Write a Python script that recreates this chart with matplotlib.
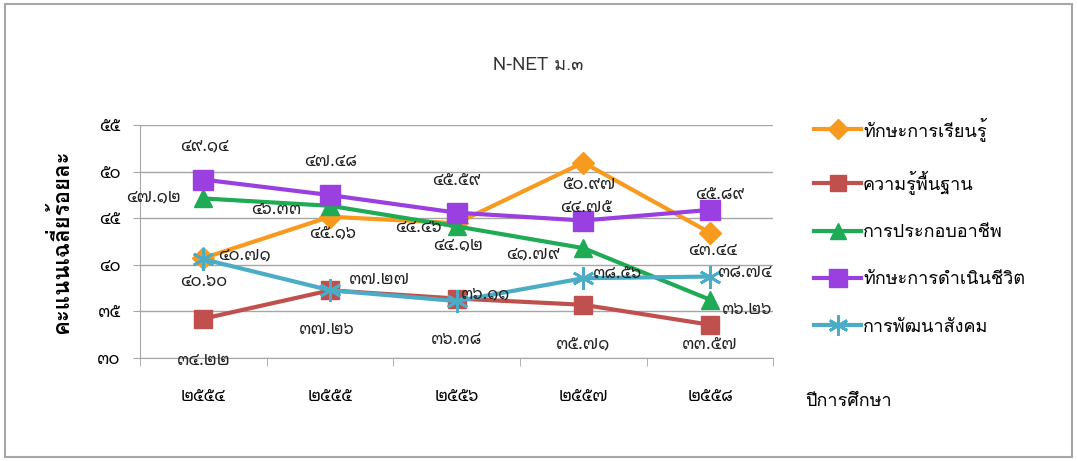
import matplotlib
matplotlib.use('Agg')
import matplotlib.pyplot as plt
import matplotlib.patches as patches

# ข้อมูล N-NET ม.3 (อ่านจากภาพ)
years = [2554, 2555, 2556, 2557, 2558]
learning = [40.71, 45.16, 44.46, 50.97, 43.44]      # ทักษะการเรียนรู้
basic = [34.22, 37.26, 36.38, 35.71, 33.57]         # ความรู้พื้นฐาน
career = [47.12, 46.33, 44.12, 41.79, 36.26]        # การประกอบอาชีพ
living = [49.14, 47.48, 45.59, 44.75, 45.89]        # ทักษะการดำเนินชีวิต
social = [40.60, 37.27, 36.11, 38.56, 38.74]        # การพัฒนาสังคม
y_ticks = [30, 35, 40, 45, 50, 55]

names = ['ทักษะการเรียนรู้', 'ความรู้พื้นฐาน', 'การประกอบอาชีพ',
         'ทักษะการดำเนินชีวิต', 'การพัฒนาสังคม']

FONT = ['Loma', 'DejaVu Sans']
NUMFONT = ['Noto Sans Thai Looped', 'Loma', 'DejaVu Sans']
thai = str.maketrans('0123456789', '๐๑๒๓๔๕๖๗๘๙')

def th(s):
    return str(s).translate(thai)

# (สี, marker, size, ตำแหน่ง label เป็น pixel offset)
styles = [
    ('#F79A1E', 'D', 11, [(15, 3, 'left'), (3, -17, 'center'), (-15, -5, 'right'), (6, -22, 'center'), (3, -18, 'center')]),
    ('#C0504D', 's', 13, [(0, -42, 'center'), (-3, -40, 'center'), (0, -41, 'center'), (0, -40, 'center'), (0, -20, 'center')]),
    ('#1FAA55', '^', 13, [(-22, 1, 'right'), (-28, -4, 'right'), (1, -19, 'center'), (-24, -6, 'right'), (12, -10, 'left')]),
    ('#9A3FE0', 's', 14, [(1, 33, 'center'), (1, 33, 'center'), (0, 32, 'center'), (3, 13, 'center'), (10, 15, 'center')]),
    ('#4BACC6', (6, 2, 0), 16, [(0, -23, 'center'), (19, 10, 'left'), (4, 7, 'left'), (10, 4, 'left'), (8, 4, 'left')]),
]
series = [learning, basic, career, living, social]

fig = plt.figure(figsize=(10.77, 4.61), dpi=100)
fig.patches.append(patches.Rectangle((0.005, 0.008), 0.99, 0.984, transform=fig.transFigure,
                                     fill=False, edgecolor='#A6A6A6', linewidth=1.5))
ax = fig.add_axes([0.130, 0.2234, 0.588, 0.5055])

x = list(range(len(years)))
for vals, name, (col, mk, ms, offs) in zip(series, names, styles):
    mew = 2 if isinstance(mk, tuple) else 1
    ax.plot(x, vals, color=col, linewidth=3, marker=mk, markersize=ms,
            markeredgewidth=mew, markeredgecolor=col, label=name, zorder=3)
    for xi, v, (dx, dy, ha) in zip(x, vals, offs):
        ax.annotate(th('%.2f' % v), (xi, v), xytext=(dx, dy), textcoords='offset pixels',
                    ha=ha, va='center', fontsize=12, fontweight='medium', family=NUMFONT,
                    color='#222222', zorder=4)

ax.set_xlim(-0.5, len(years) - 0.5)
ax.set_ylim(30, 55)
ax.set_yticks(y_ticks)
ax.set_yticklabels([th(t) for t in y_ticks], family=NUMFONT, fontsize=12, fontweight='medium')
ax.set_xticks(x)
ax.set_xticklabels([th(y) for y in years], family=NUMFONT, fontsize=12, fontweight='medium')
ax.set_xticks([i - 0.5 for i in range(len(years) + 1)], minor=True)
ax.tick_params(axis='x', which='major', length=0, pad=22)
ax.tick_params(axis='x', which='minor', length=6, color='#A6A6A6')
ax.tick_params(axis='y', length=5, color='#A6A6A6', pad=9)
ax.grid(axis='y', color='#A6A6A6', linewidth=1)
ax.set_axisbelow(True)
for s in ['top', 'right']:
    ax.spines[s].set_visible(False)
for s in ['left', 'bottom']:
    ax.spines[s].set_color('#A6A6A6')

ax.set_ylabel('คะแนนเฉลี่ยร้อยละ', family=FONT, fontsize=16, fontweight='bold', labelpad=18)
fig.text(0.748, 0.131, 'ปีการศึกษา', family=FONT, fontsize=13, va='center')
fig.text(0.50, 0.858, 'N-NET ม.๓', family=FONT, fontsize=13, ha='center', va='center', color='#333333')

fig.legend(loc='upper left', bbox_to_anchor=(0.741, 0.782), frameon=False,
           prop={'family': FONT, 'size': 13}, labelspacing=1.62, handlelength=2.6,
           handletextpad=0.1, markerscale=0.9)

fig.savefig('out.png', dpi=100)
